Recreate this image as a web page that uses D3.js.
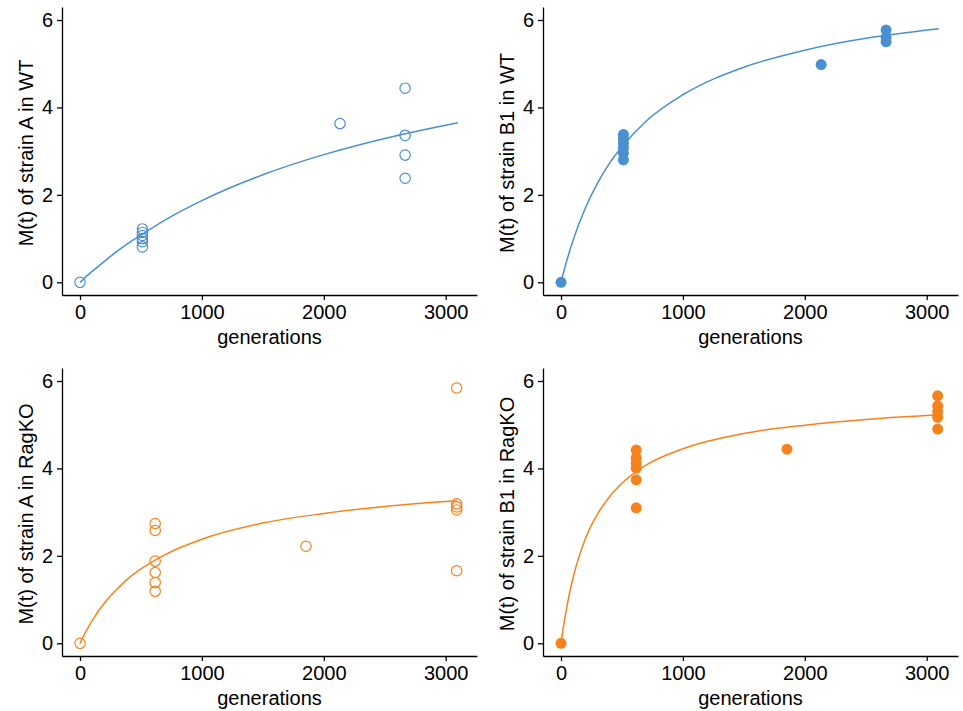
<!DOCTYPE html>
<html>
<head>
<meta charset="utf-8">
<script src="https://cdn.jsdelivr.net/npm/d3@7"></script>
<style>
  body { margin: 0; background: #fff; }
  svg text { font-family: "Liberation Sans", Arial, Helvetica, sans-serif; fill: #000; }
  .axis path, .axis line { stroke: #000; stroke-width: 1.3px; }
  .axis text { font-size: 20px; }
  .title { font-size: 20px; }
</style>
</head>
<body>
<svg id="chart" width="963" height="711"></svg>
<script>
//
// data
var yTicks = [0, 2, 4, 6],
    xTicks = [0, 1000, 2000, 3000];

// strain A in WT (open circles)
var aWtGen = [0, 512, 512, 512, 512, 512, 512, 2133, 2667, 2667, 2667, 2667],
    aWtM   = [0, 1.22, 1.14, 1.07, 1.0, 0.93, 0.81, 3.63, 4.44, 3.36, 2.91, 2.38];
// strain B1 in WT (filled)
var b1WtGen = [0, 512, 512, 512, 512, 512, 512, 2134, 2667, 2667, 2667],
    b1WtM   = [0, 3.38, 3.28, 3.18, 3.08, 2.95, 2.8, 4.98, 5.77, 5.6, 5.5];
// strain A in RagKO (open)
var aKoGen = [0, 617, 617, 617, 617, 617, 617, 1854, 3090, 3090, 3090, 3090, 3090],
    aKoM   = [0, 2.74, 2.58, 1.88, 1.62, 1.39, 1.19, 2.22, 5.84, 3.19, 3.12, 3.05, 1.66];
// strain B1 in RagKO (filled)
var b1KoGen = [0, 617, 617, 617, 617, 617, 617, 1854, 3090, 3090, 3090, 3090, 3090],
    b1KoM   = [0, 4.42, 4.24, 4.12, 4.01, 3.74, 3.10, 4.44, 5.66, 5.43, 5.30, 5.17, 4.90];

// fitted curves
var fitGen    = [0, 25, 50, 100, 200, 300, 400, 500, 700, 1000, 1500, 2000, 2500, 3100],
    fitAWt    = [0, 0.06, 0.13, 0.25, 0.48, 0.70, 0.90, 1.08, 1.43, 1.87, 2.46, 2.92, 3.29, 3.65],
    fitB1Wt   = [0, 0.27, 0.52, 0.97, 1.70, 2.27, 2.73, 3.10, 3.69, 4.29, 4.92, 5.31, 5.58, 5.80],
    fitAKo    = [0, 0.14, 0.28, 0.52, 0.92, 1.23, 1.49, 1.70, 2.03, 2.38, 2.75, 2.97, 3.13, 3.26],
    fitB1Ko   = [0, 0.47, 0.87, 1.51, 2.39, 2.96, 3.36, 3.66, 4.08, 4.45, 4.80, 4.99, 5.12, 5.22];

var blue = '#4a8fd0', orange = '#f7811a';

var svg = d3.select('#chart');

//
// one panel: open or filled dots plus the fitted line
var panel = function(ox, oy, opts) {
  var g = svg.append('g').attr('transform', 'translate(' + ox + ',' + oy + ')'),
      left = 62, right = 477, top = 7, bottom = 295,
      x = d3.scaleLinear().domain([0, 3000]).range([80, 445.7]),
      y = d3.scaleLinear().domain([0, 6]).range([282.3, 20]);

  var xFull = x.copy().domain([x.invert(left), x.invert(right)]).range([left, right]),
      yFull = y.copy().domain([y.invert(bottom), y.invert(top)]).range([bottom, top]);

  g.append('g').attr('class', 'axis')
    .attr('transform', 'translate(0,' + bottom + ')')
    .call(d3.axisBottom(xFull).tickValues(xTicks).tickSize(5).tickSizeOuter(0).tickPadding(5)
      .tickFormat(d3.format('d')));
  g.append('g').attr('class', 'axis')
    .attr('transform', 'translate(' + left + ',0)')
    .call(d3.axisLeft(yFull).tickValues(yTicks).tickSize(5).tickSizeOuter(0).tickPadding(4)
      .tickFormat(d3.format('d')));

  g.append('text').attr('class', 'title')
    .attr('x', (left + right) / 2).attr('y', 344)
    .attr('text-anchor', 'middle')
    .text('generations');
  g.append('text').attr('class', 'title')
    .attr('transform', 'translate(33,' + 153 + ') rotate(-90)')
    .attr('text-anchor', 'middle')
    .text(opts.label);

  var line = d3.line()
    .x(function(d) { return x(d[0]); })
    .y(function(d) { return y(d[1]); })
    .curve(d3.curveMonotoneX);
  var fitEnd = opts.fitEnd || 3100;
  g.append('path')
    .datum(d3.zip(fitGen, opts.fit).map(function(d) { return [Math.min(d[0], fitEnd), d[1]]; }))
    .attr('fill', 'none')
    .attr('stroke', opts.color)
    .attr('stroke-width', 1.5)
    .attr('d', line);

  g.selectAll('circle').data(d3.zip(opts.gen, opts.m)).enter()
    .append('circle')
      .attr('cx', function(d) { return x(d[0]); })
      .attr('cy', function(d) { return y(d[1]); })
      .attr('r', opts.filled ? 5.5 : 5.2)
      .attr('fill', opts.filled ? opts.color : 'none')
      .attr('stroke', opts.color)
      .attr('stroke-width', opts.filled ? 0 : 1.2);
};

panel(0, 0, { label: 'M(t) of strain A in WT', gen: aWtGen, m: aWtM, fit: fitAWt, color: blue, filled: false });
panel(481, 0, { label: 'M(t) of strain B1 in WT', gen: b1WtGen, m: b1WtM, fit: fitB1Wt, color: blue, filled: true });
panel(0, 361, { label: 'M(t) of strain A in RagKO', gen: aKoGen, m: aKoM, fit: fitAKo, color: orange, filled: false, fitEnd: 3090 });
panel(481, 361, { label: 'M(t) of strain B1 in RagKO', gen: b1KoGen, m: b1KoM, fit: fitB1Ko, color: orange, filled: true, fitEnd: 3090 });
</script>
</body>
</html>
